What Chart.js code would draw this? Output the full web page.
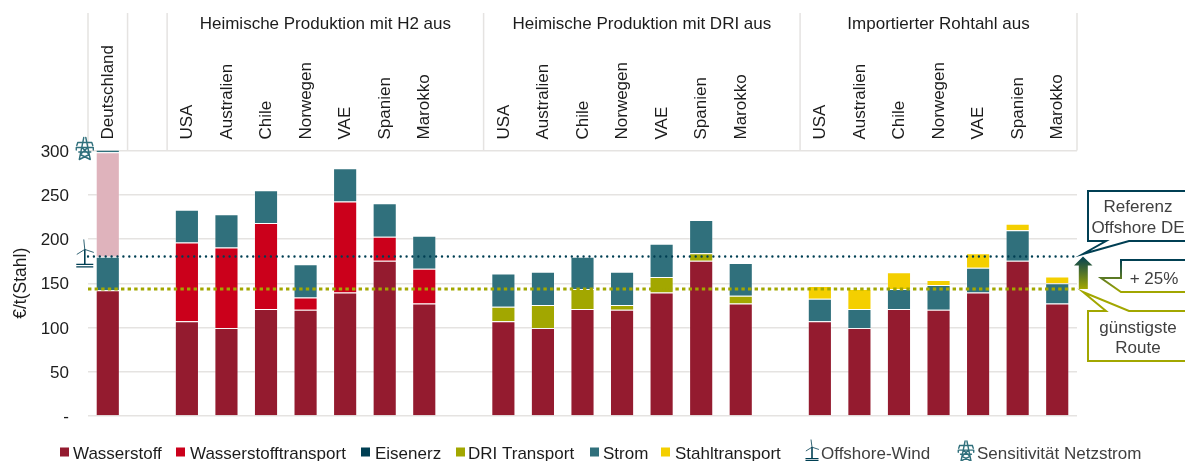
<!DOCTYPE html>
<html lang="de">
<head>
<meta charset="utf-8">
<style>html,body{margin:0;padding:0;background:#fff}canvas{display:block}</style>
<script src="https://cdn.jsdelivr.net/npm/chart.js@4/dist/chart.umd.min.js"></script>
</head>
<body>
<canvas id="c" width="1185" height="461"></canvas>
<script>
const categories = ['Deutschland','',
  'USA','Australien','Chile','Norwegen','VAE','Spanien','Marokko','',
  'USA','Australien','Chile','Norwegen','VAE','Spanien','Marokko','',
  'USA','Australien','Chile','Norwegen','VAE','Spanien','Marokko'];
const groupLabels = ['Heimische Produktion mit H2 aus','Heimische Produktion mit DRI aus','Importierter Rohtahl aus'];
const yTicks = [0,50,100,150,200,250,300];

const wasserstoff = [142,null, 107,99.5,121,120,139.5,175.5,127,null, 107,99.5,121,120,139.5,175.5,127,null, 107,99.5,121,120,139.5,175.5,127];
const wasserstofftransport = [null,null, 89,91,97,14,103,27,39.5,null, null,null,null,null,null,null,null,null, null,null,null,null,null,null,null];
const eisenerz = [null,null, null,null,null,null,null,null,null,null, null,null,null,null,null,null,null,null, null,null,null,null,null,null,null];
const driTransport = [null,null, null,null,null,null,null,null,null,null, 16.5,26,22.5,5.5,17.5,8.5,9,null, null,null,null,null,null,null,null];
const strom = [38,null, 37,37.4,37,37.4,37.5,37.8,37.2,null, 37.5,37.5,36.5,37.5,37.7,37.5,37,null, 25.5,21.5,22.5,28,28,34.5,23];
const stahltransport = [null,null, null,null,null,null,null,null,null,null, null,null,null,null,null,null,null,null, 14.5,22.5,19,5.7,16.5,7.3,7.5];
const sensitivitaet = [118,null, null,null,null,null,null,null,null,null, null,null,null,null,null,null,null,null, null,null,null,null,null,null,null];
const netzstromRest = [3,null, null,null,null,null,null,null,null,null, null,null,null,null,null,null,null,null, null,null,null,null,null,null,null];
const referenzOffshore = 180.3;
const guenstigsteRoute = 143.5;

const C = {wine:'#941B2F', red:'#CB001B', dark:'#003F53', olive:'#A2A700', teal:'#30707C', yellow:'#F4CF00', pink:'#DFB3BC', grid:'#E5E3E1', text:'#1c1c1c', soft:'#404040'};
const FAMILY = '"Liberation Sans", Arial, sans-serif';
const SIZE = 17;
const FONT = SIZE+'px '+FAMILY;
const edge = 'rgba(255,255,255,0.3)';

function drawPylon(ctx, cx, top, h, color){
  const k = h/22;
  const P=(x,y)=>[cx+x*k, top+y*k];
  const L=(a,b)=>{ctx.moveTo(...P(...a));ctx.lineTo(...P(...b));};
  ctx.save();ctx.strokeStyle=color;ctx.lineWidth=1.4;ctx.lineCap='round';ctx.beginPath();
  L([-1,0],[-5.5,22]);L([1,0],[5.5,22]);
  L([-7,5],[7,5]);L([-8.5,10],[8.5,10]);L([-6,14.5],[6,14.5]);
  L([-7,5],[-8,8]);L([7,5],[8,8]);L([-8.5,10],[-8.5,12.5]);L([8.5,10],[8.5,12.5]);
  L([-3,10],[4.5,17]);L([3,10],[-4.5,17]);L([-4.5,17],[5.5,22]);L([4.5,17],[-5.5,22]);
  ctx.stroke();ctx.restore();
}
function drawWind(ctx, cx, top, h, color){
  const k = h/28;
  const hub=[cx, top+10*k];
  ctx.save();ctx.strokeStyle=color;ctx.lineCap='butt';
  ctx.lineWidth=1.6;ctx.beginPath();ctx.moveTo(cx,hub[1]);ctx.lineTo(cx,top+25*k);ctx.stroke();
  ctx.lineWidth=0.8;ctx.beginPath();
  ctx.moveTo(hub[0],hub[1]);ctx.lineTo(cx-1,top);
  ctx.moveTo(hub[0],hub[1]);ctx.lineTo(cx+9*k,top+13*k);
  ctx.moveTo(hub[0],hub[1]);ctx.lineTo(cx-8*k,top+15*k);
  ctx.stroke();
  ctx.lineWidth=1.2;ctx.beginPath();
  ctx.moveTo(cx-8.5*k,top+25*k);ctx.lineTo(cx+8.5*k,top+25*k);
  ctx.moveTo(cx-8.5*k,top+27.5*k);ctx.lineTo(cx+8.5*k,top+27.5*k);
  ctx.stroke();ctx.restore();
}
function callout(ctx, pts, stroke, lw){
  ctx.save();ctx.beginPath();
  pts.forEach((p,i)=> i?ctx.lineTo(p[0],p[1]):ctx.moveTo(p[0],p[1]));
  ctx.closePath();ctx.fillStyle='#fff';ctx.fill();
  ctx.strokeStyle=stroke;ctx.lineWidth=lw;ctx.lineJoin='miter';ctx.stroke();ctx.restore();
}

const overlay = {
  id:'overlay',
  afterDatasetsUpdate(chart){
    // reference lines span the whole plot width, not just first to last bar centre
    const a=chart.chartArea;
    chart.data.datasets.forEach((d,i)=>{
      if(d.type!=='line')return;
      const pts=chart.getDatasetMeta(i).data;
      pts[0].x=a.left;pts[pts.length-1].x=a.right;
    });
  },
  afterDraw(chart){
    const ctx=chart.ctx, x=chart.scales.x, y=chart.scales.y, a=chart.chartArea;
    const step=(a.right-a.left)/categories.length;
    const bound=i=>a.left+i*step;
    // header separators
    ctx.save();ctx.strokeStyle=C.grid;ctx.lineWidth=1.5;
    [0,1,2,10,18,25].forEach(i=>{ctx.beginPath();ctx.moveTo(bound(i),13);ctx.lineTo(bound(i),a.top);ctx.stroke();});
    // group headers
    ctx.font=FONT;ctx.fillStyle=C.text;ctx.textAlign='center';ctx.textBaseline='middle';
    const centers=[(bound(2)+bound(10))/2,(bound(10)+bound(18))/2,(bound(18)+bound(25))/2];
    groupLabels.forEach((t,i)=>ctx.fillText(t,centers[i],24));
    ctx.restore();
    // icons beside the German bar
    const ix=x.getPixelForValue(0)-23;
    drawPylon(ctx,ix,y.getPixelForValue(300)-13,22,C.teal);
    drawWind(ctx,ix,y.getPixelForValue(referenzOffshore)-17,28,C.dark);
    // callouts
    const yHi=y.getPixelForValue(referenzOffshore), yLo=y.getPixelForValue(guenstigsteRoute);
    const R=1195;
    callout(ctx,[[1088,191],[R,191],[R,241],[1129,241],[1083,254],[1106,241],[1088,241]],C.dark,2);
    callout(ctx,[[1088,311],[1106,311],[1083,292],[1129,311],[R,311],[R,361],[1088,361]],C.olive,2);
    const g2=ctx.createLinearGradient(0,260,0,292);g2.addColorStop(0,C.dark);g2.addColorStop(1,C.olive);
    callout(ctx,[[1121,260],[R,260],[R,292],[1121,292],[1101,278],[1121,278]],g2,2);
    // arrow between the two reference levels
    const g=ctx.createLinearGradient(0,yHi,0,yLo);g.addColorStop(0,C.dark);g.addColorStop(1,C.olive);
    ctx.save();ctx.fillStyle=g;ctx.beginPath();
    ctx.moveTo(1083,yHi);ctx.lineTo(1092.5,yHi+9);ctx.lineTo(1087.8,yHi+9);ctx.lineTo(1087.8,yLo);
    ctx.lineTo(1078.8,yLo);ctx.lineTo(1078.8,yHi+9);ctx.lineTo(1074,yHi+9);ctx.closePath();ctx.fill();ctx.restore();
    ctx.save();ctx.font=FONT;ctx.fillStyle=C.soft;ctx.textAlign='center';ctx.textBaseline='middle';
    ctx.fillText('Referenz',1138,207);ctx.fillText('Offshore DE',1138,228);
    ctx.fillText('+ 25%',1154,279);
    ctx.fillText('günstigste',1138,328);ctx.fillText('Route',1138,348.5);
    ctx.restore();
    // legend
    const items=[
      ['Wasserstoff',C.wine,60,73],['Wasserstofftransport',C.red,176,190],['Eisenerz',C.dark,361,375],
      ['DRI Transport',C.olive,456,468],['Strom',C.teal,590,603],['Stahltransport',C.yellow,661,675]];
    ctx.save();ctx.font=FONT;ctx.textAlign='left';ctx.textBaseline='middle';
    items.forEach(([t,col,mx,tx])=>{ctx.fillStyle=col;ctx.fillRect(mx,447.5,9,9);ctx.fillStyle=C.text;ctx.fillText(t,tx,454);});
    drawWind(ctx,812,439.5,21.5,C.dark);
    drawPylon(ctx,966,441,20,C.teal);
    ctx.fillStyle=C.soft;
    ctx.fillText('Offshore-Wind',821,454);
    ctx.fillText('Sensitivität Netzstrom',977,454);
    ctx.restore();
  }
};

const bar=(label,data,color)=>({type:'bar',label,data,backgroundColor:color,borderColor:edge,borderWidth:1,order:2,barPercentage:0.61,categoryPercentage:1});
const hline=(label,val,color,width,dash,stack,cap)=>({type:'line',label,stack,order:1,
  data:categories.map(()=>val),borderColor:color,borderWidth:width,borderDash:dash,borderCapStyle:cap,pointRadius:0,fill:false});

new Chart(document.getElementById('c'),{
  data:{labels:categories,datasets:[
    hline('Referenz Offshore DE',referenzOffshore,C.dark,2.4,[0,5.9],'ref1','round'),
    hline('Günstigste Route',guenstigsteRoute,C.olive,3,[3.4,3.2],'ref2','butt'),
    bar('Wasserstoff',wasserstoff,C.wine),
    bar('Wasserstofftransport',wasserstofftransport,C.red),
    bar('Eisenerz',eisenerz,C.dark),
    bar('DRI Transport',driTransport,C.olive),
    bar('Strom',strom,C.teal),
    bar('Stahltransport',stahltransport,C.yellow),
    bar('Sensitivität Netzstrom',sensitivitaet,C.pink),
    bar('Netzstrom',netzstromRest,C.teal)
  ]},
  options:{
    responsive:false,animation:false,
    layout:{padding:{left:0,top:0,right:108,bottom:45}},
    plugins:{legend:{display:false},tooltip:{enabled:false}},
    scales:{
      x:{type:'category',position:'top',stacked:true,offset:true,
        afterFit(s){s.height=150.5;},
        grid:{display:false},border:{display:false},
        ticks:{autoSkip:false,minRotation:90,maxRotation:90,padding:3,labelOffset:SIZE*1.2+0.5,color:C.text,font:{family:FAMILY,size:SIZE}}},
      y:{type:'linear',position:'left',stacked:true,min:0,max:300,
        afterFit(s){s.width=88;},
        afterBuildTicks(s){s.ticks=yTicks.map(v=>({value:v}));},
        title:{display:true,text:'€/t(Stahl)',color:C.text,font:{family:FAMILY,size:SIZE+0.5},padding:{top:11,bottom:0}},
        grid:{color:C.grid,lineWidth:1.5,drawTicks:false},border:{display:false},
        ticks:{padding:19,labelOffset:1.5,color:C.text,font:{family:FAMILY,size:SIZE},callback:v=>v===0?'-':String(v)}}
    }
  },
  plugins:[overlay]
});
</script>
</body>
</html>
